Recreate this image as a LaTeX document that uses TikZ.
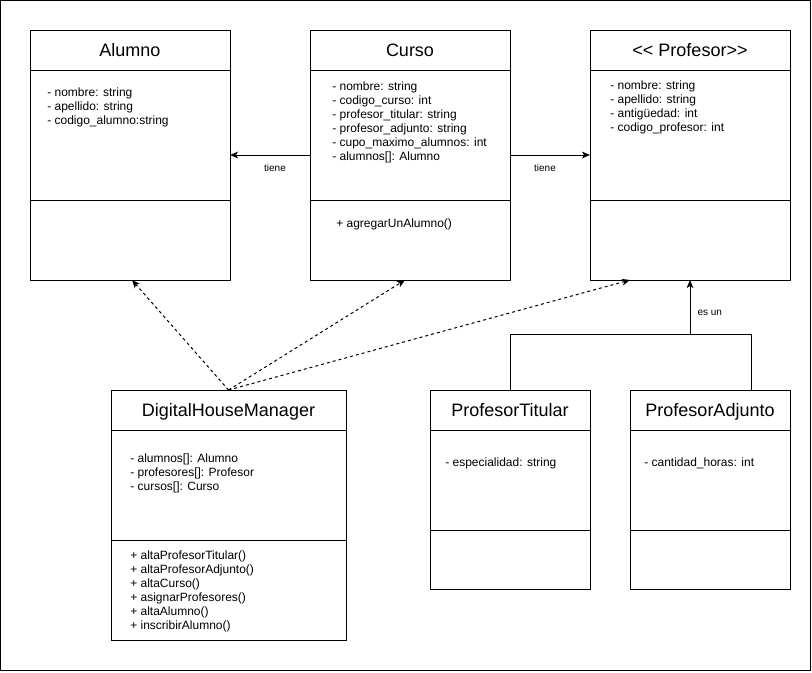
\documentclass[tikz,border=0pt]{standalone}
\usepackage{fontspec}
\setmainfont{Liberation Sans}
\usetikzlibrary{calc}
\usetikzlibrary{arrows.meta}
\tikzset{
  cls/.style={draw, line width=.75pt, inner sep=0, outer sep=0, anchor=north west},
  head/.style={cls, minimum height=30pt, text height=9.7pt, text depth=0pt, font=\fontsize{13.5}{16}\selectfont},
  member/.style={anchor=base west, inner sep=0, font=\fontsize{9}{10.5}\selectfont},
  lbl/.style={font=\fontsize{7.5}{9}\selectfont, inner sep=0},
  assoc/.style={line width=.75pt, -{Stealth[length=6pt,width=5pt,inset=1.5pt]}},
  dep/.style={assoc, dash pattern=on 2.25pt off 2.25pt}
}

\begin{document}
\begin{tikzpicture}[x=.75pt,y=-.75pt]
\useasboundingbox (0,0) rectangle (812,672);
\draw[line width=.75pt] (.5,.5) rectangle (810.5,670.5);

\node[head, minimum width=150pt] (alumno) at (30,30) {Alumno};
\node[cls, minimum width=150pt, minimum height=97.5pt] (alumno-attr) at (alumno.south west) {};
\node[cls, minimum width=150pt, minimum height=60pt] (alumno-ops) at (alumno-attr.south west) {};
\foreach \t [count=\i from 0] in {- nombre: string, - apellido: string, - codigo\_alumno:string}
  \node[member] (alumno-m\i) at (47,{96+14*\i}) {\t};

\node[head, minimum width=150pt] (curso) at (310,30) {Curso};
\node[cls, minimum width=150pt, minimum height=97.5pt] (curso-attr) at (curso.south west) {};
\node[cls, minimum width=150pt, minimum height=60pt] (curso-ops) at (curso-attr.south west) {};
\foreach \t [count=\i from 0] in {- nombre: string, - codigo\_curso: int, - profesor\_titular: string,
    - profesor\_adjunto: string, - cupo\_maximo\_alumnos: int, - alumnos[]: Alumno}
  \node[member] (curso-m\i) at (332,{90+14*\i}) {\t};
\node[member] (curso-op0) at (336,227) {+ agregarUnAlumno()};

\node[head, minimum width=150pt] (profesor) at (590,30) {<{}< Profesor>{}>};
\node[cls, minimum width=150pt, minimum height=97.5pt] (profesor-attr) at (profesor.south west) {};
\node[cls, minimum width=150pt, minimum height=60pt] (profesor-ops) at (profesor-attr.south west) {};
\foreach \t [count=\i from 0] in {- nombre: string, - apellido: string, - antigüedad: int, - codigo\_profesor: int}
  \node[member] (profesor-m\i) at (610,{89+14*\i}) {\t};

\node[head, minimum width=176.25pt] (dhm) at (111,390) {DigitalHouseManager};
\node[cls, minimum width=176.25pt, minimum height=82.5pt] (dhm-attr) at (dhm.south west) {};
\node[cls, minimum width=176.25pt, minimum height=75pt] (dhm-ops) at (dhm-attr.south west) {};
\foreach \t [count=\i from 0] in {- alumnos[]: Alumno, - profesores[]: Profesor, - cursos[]: Curso}
  \node[member] (dhm-m\i) at (130,{462+14*\i}) {\t};
\foreach \t [count=\i from 0] in {+ altaProfesorTitular(), + altaProfesorAdjunto(), + altaCurso(),
    + asignarProfesores(), + altaAlumno(), + inscribirAlumno()}
  \node[member] (dhm-op\i) at (130,{559+14*\i}) {\t};

\node[head, minimum width=120pt] (pt) at (430,390) {ProfesorTitular};
\node[cls, minimum width=120pt, minimum height=75pt] (pt-attr) at (pt.south west) {};
\node[cls, minimum width=120pt, minimum height=44.25pt] (pt-ops) at (pt-attr.south west) {};
\node[member] (pt-m0) at (445,466) {- especialidad: string};

\node[head, minimum width=120pt] (pa) at (630,390) {ProfesorAdjunto};
\node[cls, minimum width=120pt, minimum height=75pt] (pa-attr) at (pa.south west) {};
\node[cls, minimum width=120pt, minimum height=44.25pt] (pa-ops) at (pa-attr.south west) {};
\node[member] (pa-m0) at (644,466) {- cantidad\_horas: int};

\draw[assoc] ([yshift=-15pt]curso-attr.west) -- node[lbl, xshift=3.75pt, yshift=-9.75pt] (tiene-a) {tiene} ([yshift=-15pt]alumno-attr.east);
\draw[assoc] ([yshift=-15pt]curso-attr.east) -- node[lbl, xshift=-3.75pt, yshift=-9.75pt] (tiene-b) {tiene} ([yshift=-15pt]profesor-attr.west);

\coordinate (split) at (690,334);
\draw[line width=.75pt] (pt.north) |- (split);
\draw[line width=.75pt] ([xshift=30.75pt]pa.north) |- (split);
\draw[assoc] (split) -- node[lbl, anchor=west, xshift=5.25pt, yshift=-4.5pt] (esun) {es un} (profesor-ops.south);

\draw[dep] (dhm.north) -- ([xshift=1.5pt]alumno-ops.south);
\draw[dep] (dhm.north) -- ([xshift=-3.75pt]curso-ops.south);
\draw[dep] (dhm.north) -- ([xshift=-45pt]profesor-ops.south);
\end{tikzpicture}
\end{document}
